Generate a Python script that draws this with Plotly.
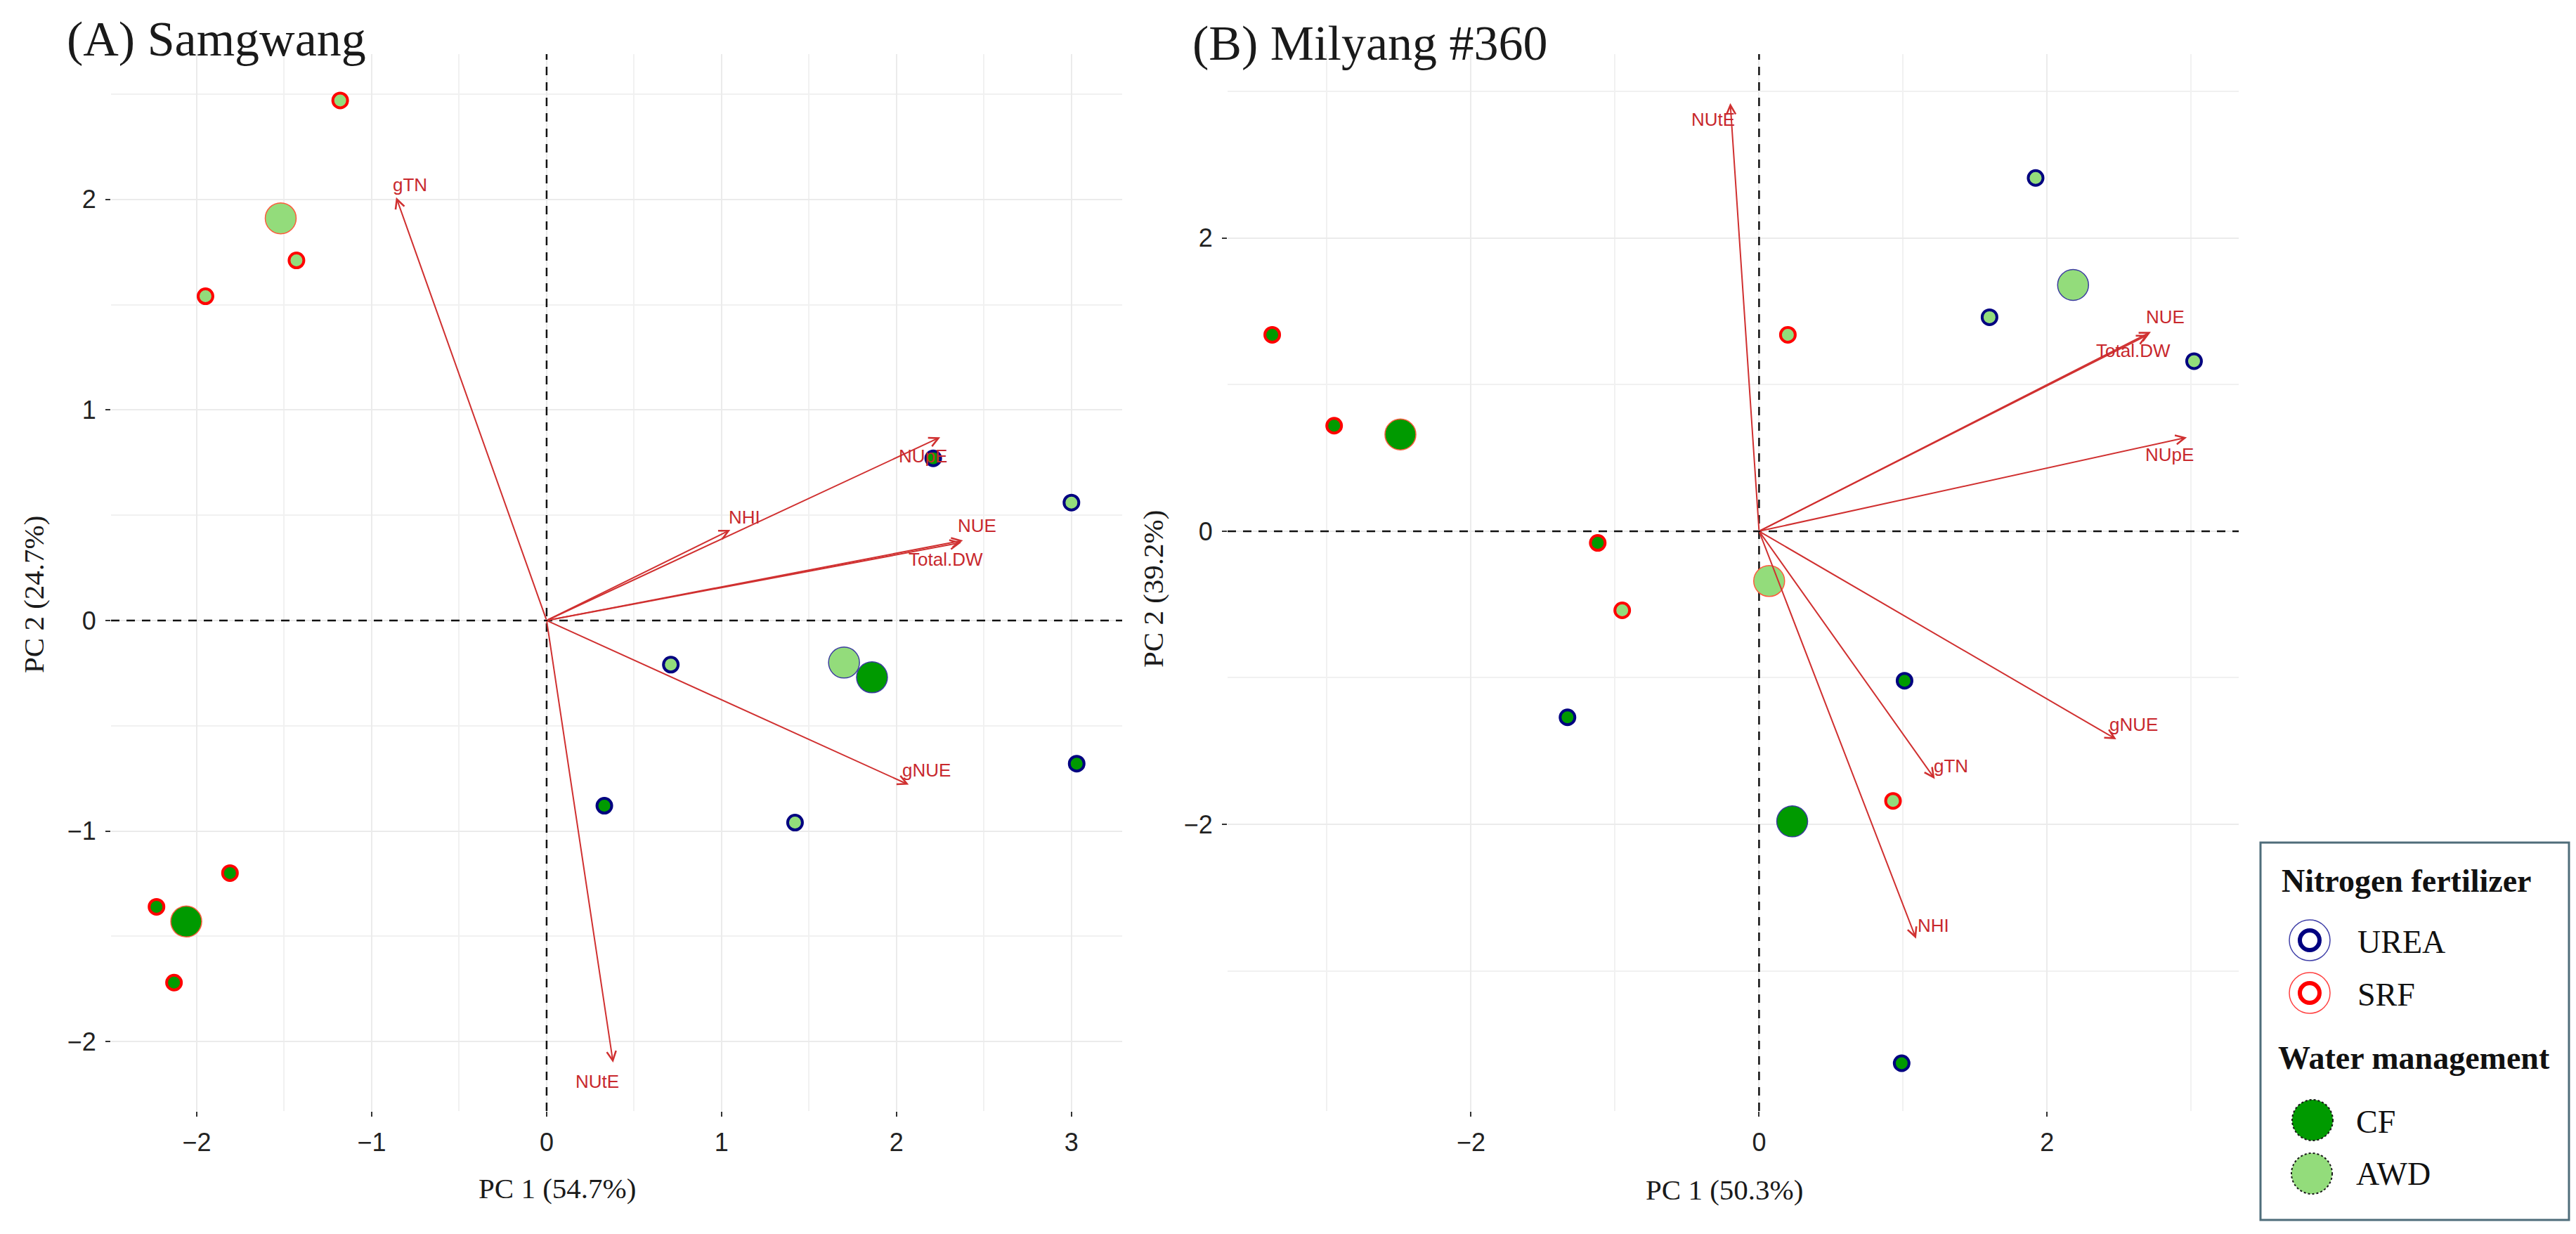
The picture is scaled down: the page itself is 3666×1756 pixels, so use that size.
import plotly.graph_objects as go

W, H = 3666, 1756

# ---------------- (A) Samgwang ----------------
# individuals (PC1, PC2)
a_urea_cf_x = [2.21, 3.03, 0.33]
a_urea_cf_y = [0.77, -0.68, -0.88]
a_urea_awd_x = [3.00, 0.71, 1.42]
a_urea_awd_y = [0.56, -0.21, -0.96]
a_srf_cf_x = [-1.81, -2.23, -2.13]
a_srf_cf_y = [-1.20, -1.36, -1.72]
a_srf_awd_x = [-1.18, -1.43, -1.95]
a_srf_awd_y = [2.47, 1.71, 1.54]
# group means: UREA-CF, UREA-AWD, SRF-CF, SRF-AWD
a_mean_x = [1.86, 1.70, -2.06, -1.52]
a_mean_y = [-0.27, -0.20, -1.43, 1.91]
# variables (loadings)
a_vars = ["gTN", "NUpE", "NHI", "NUE", "Total.DW", "gNUE", "NUtE"]
a_var_x = [-0.86, 2.25, 1.05, 2.38, 2.37, 2.07, 0.38]
a_var_y = [2.01, 0.87, 0.43, 0.38, 0.37, -0.78, -2.10]
a_lab_x = [-0.78, 2.15, 1.13, 2.46, 2.28, 2.17, 0.29]
a_lab_y = [2.07, 0.78, 0.49, 0.45, 0.29, -0.71, -2.19]
a_xrange = [-2.49, 3.29]
a_yrange = [-2.33, 2.69]

# ---------------- (B) Milyang #360 ----------------
b_urea_cf_x = [1.01, -1.33, 0.99]
b_urea_cf_y = [-1.02, -1.27, -3.63]
b_urea_awd_x = [1.92, 1.60, 3.02]
b_urea_awd_y = [2.41, 1.46, 1.16]
b_srf_cf_x = [-3.38, -2.95, -1.12]
b_srf_cf_y = [1.34, 0.72, -0.08]
b_srf_awd_x = [-0.95, 0.20, 0.93]
b_srf_awd_y = [-0.54, 1.34, -1.84]
b_mean_x = [0.23, 2.18, -2.49, 0.07]
b_mean_y = [-1.98, 1.68, 0.66, -0.34]
b_vars = ["NUtE", "NUE", "Total.DW", "NUpE", "gNUE", "gTN", "NHI"]
b_var_x = [-0.20, 2.72, 2.70, 2.97, 2.48, 1.22, 1.09]
b_var_y = [2.92, 1.36, 1.34, 0.64, -1.42, -1.69, -2.78]
b_lab_x = [-0.32, 2.82, 2.60, 2.85, 2.60, 1.33, 1.21]
b_lab_y = [2.81, 1.46, 1.23, 0.52, -1.32, -1.60, -2.69]
b_xrange = [-3.69, 3.33]
b_yrange = [-3.956, 3.255]

mean_fert = ["UREA", "UREA", "SRF", "SRF"]
mean_water = ["CF", "AWD", "CF", "AWD"]

CF_GREEN = "#009a00"
AWD_GREEN = "#93dc7b"
UREA_LINE = "#000080"
SRF_LINE = "#ff0000"
ARROW = "#d03030"
LABEL = "#c8282d"
SANS = "Liberation Sans, Arial, sans-serif"
SERIF = "Liberation Serif, Times New Roman, serif"


def px_x(p):
    return p / W


def px_y(p):
    return 1 - p / H


fig = go.Figure()


def add_panel(xa, ya, xrange, yrange, pts, mx, my, var_x, var_y, labs, lab_x, lab_y):
    # dashed lines through the origin (under the points, over the grid)
    dash = dict(color="#111111", width=2.5, dash="12px,10px")
    fig.add_trace(go.Scatter(x=[0, 0], y=yrange, mode="lines", xaxis=xa, yaxis=ya,
                             line=dash, showlegend=False, hoverinfo="skip"))
    fig.add_trace(go.Scatter(x=xrange, y=[0, 0], mode="lines", xaxis=xa, yaxis=ya,
                             line=dash, showlegend=False, hoverinfo="skip"))
    for xs, ys, fill, line in pts:
        fig.add_trace(go.Scatter(
            x=xs, y=ys, mode="markers", xaxis=xa, yaxis=ya, showlegend=False,
            marker=dict(size=21, color=fill, line=dict(color=line, width=4))))
    fig.add_trace(go.Scatter(
        x=mx, y=my, mode="markers", xaxis=xa, yaxis=ya, showlegend=False,
        marker=dict(size=44,
                    color=[CF_GREEN if w == "CF" else AWD_GREEN for w in mean_water],
                    line=dict(color=["#3c3ca0" if f == "UREA" else "#ff5a3c" for f in mean_fert],
                              width=1.5))))
    for name, vx, vy, lx, ly in zip(labs, var_x, var_y, lab_x, lab_y):
        fig.add_annotation(x=vx, y=vy, ax=0, ay=0, xref=xa, yref=ya, axref=xa, ayref=ya,
                           text="", showarrow=True, arrowhead=5, arrowsize=1.3,
                           arrowwidth=2, arrowcolor=ARROW, standoff=0)
        fig.add_annotation(x=lx, y=ly, xref=xa, yref=ya, text=name, showarrow=False,
                           font=dict(family=SANS, size=26, color=LABEL))


add_panel("x", "y", a_xrange, a_yrange,
          [(a_urea_cf_x, a_urea_cf_y, CF_GREEN, UREA_LINE),
           (a_urea_awd_x, a_urea_awd_y, AWD_GREEN, UREA_LINE),
           (a_srf_cf_x, a_srf_cf_y, CF_GREEN, SRF_LINE),
           (a_srf_awd_x, a_srf_awd_y, AWD_GREEN, SRF_LINE)],
          a_mean_x, a_mean_y, a_var_x, a_var_y, a_vars, a_lab_x, a_lab_y)
add_panel("x2", "y2", b_xrange, b_yrange,
          [(b_urea_cf_x, b_urea_cf_y, CF_GREEN, UREA_LINE),
           (b_urea_awd_x, b_urea_awd_y, AWD_GREEN, UREA_LINE),
           (b_srf_cf_x, b_srf_cf_y, CF_GREEN, SRF_LINE),
           (b_srf_awd_x, b_srf_awd_y, AWD_GREEN, SRF_LINE)],
          b_mean_x, b_mean_y, b_var_x, b_var_y, b_vars, b_lab_x, b_lab_y)

axis_common = dict(showgrid=True, gridcolor="#ebebeb", gridwidth=2, zeroline=False,
                   showline=False, ticks="outside", ticklen=7, tickwidth=2,
                   tickcolor="#333333", ticklabelstandoff=6,
                   tickfont=dict(family=SANS, size=36, color="#222222"))
y_dom = [px_y(1573), px_y(69)]

fig.update_layout(
    width=W, height=H, margin=dict(l=0, r=0, t=0, b=0), autosize=False,
    paper_bgcolor="white", plot_bgcolor="white", showlegend=False,
    xaxis=dict(domain=[px_x(150), px_x(1589)], range=a_xrange, tick0=0, dtick=1,
               minor=dict(dtick=0.5, tick0=0, showgrid=True, gridcolor="#f1f1f1", gridwidth=1.5),
               anchor="y", **axis_common),
    yaxis=dict(domain=y_dom, range=a_yrange, tick0=0, dtick=1,
               minor=dict(dtick=0.5, tick0=0, showgrid=True, gridcolor="#f1f1f1", gridwidth=1.5),
               anchor="x", **axis_common),
    xaxis2=dict(domain=[px_x(1739), px_x(3178)], range=b_xrange, tick0=0, dtick=2,
                minor=dict(dtick=1, tick0=0, showgrid=True, gridcolor="#f1f1f1", gridwidth=1.5),
                anchor="y2", **axis_common),
    yaxis2=dict(domain=y_dom, range=b_yrange, tick0=0, dtick=2,
                minor=dict(dtick=1, tick0=0, showgrid=True, gridcolor="#f1f1f1", gridwidth=1.5),
                anchor="x2", **axis_common),
)

# titles and axis titles
texts = [
    ("(A) Samgwang", 85, 47, "left", 0, 70),
    ("(B) Milyang #360", 1687, 53, "left", 0, 70),
    ("PC 1 (54.7%)", 785, 1683, "center", 0, 41),
    ("PC 1 (50.3%)", 2446, 1685, "center", 0, 41),
    ("PC 2 (24.7%)", 40, 838, "center", -90, 41),
    ("PC 2 (39.2%)", 1633, 830, "center", -90, 41),
]
for t, x, y, anc, rot, size in texts:
    fig.add_annotation(x=px_x(x), y=px_y(y), xref="paper", yref="paper", text=t,
                       showarrow=False, xanchor=anc, yanchor="middle", textangle=rot,
                       font=dict(family=SERIF, size=size, color="#1a1a1a"))

# ---------------- legend box ----------------
fig.add_shape(type="rect", xref="paper", yref="paper",
              x0=px_x(3209), x1=px_x(3648), y0=px_y(1728), y1=px_y(1191),
              line=dict(color="#4f6d7a", width=3), fillcolor="white")


def circle(cx, cy, d, line_color, line_width, fill="rgba(0,0,0,0)", dash="solid"):
    fig.add_shape(type="circle", xref="paper", yref="paper",
                  x0=px_x(cx - d / 2), x1=px_x(cx + d / 2),
                  y0=px_y(cy + d / 2), y1=px_y(cy - d / 2),
                  line=dict(color=line_color, width=line_width, dash=dash),
                  fillcolor=fill)


legend_rows = [
    ("<b>Nitrogen fertilizer</b>", 3237, 1245),
    ("UREA", 3345, 1332),
    ("SRF", 3345, 1407),
    ("<b>Water management</b>", 3232, 1497),
    ("CF", 3343, 1588),
    ("AWD", 3343, 1662),
]
for t, x, y in legend_rows:
    fig.add_annotation(x=px_x(x), y=px_y(y), xref="paper", yref="paper", text=t,
                       showarrow=False, xanchor="left", yanchor="middle",
                       font=dict(family=SERIF, size=46, color="#111111"))

circle(3279, 1330, 58, "#4040a8", 1.5)
circle(3279, 1330, 28, UREA_LINE, 6)
circle(3279, 1405, 58, "#ff4040", 1.5)
circle(3279, 1405, 28, SRF_LINE, 6)
circle(3283, 1586, 58, "#1a1a1a", 2, CF_GREEN, "dot")
circle(3282, 1662, 58, "#1a1a1a", 2, AWD_GREEN, "dot")

fig.write_html("out.html")
